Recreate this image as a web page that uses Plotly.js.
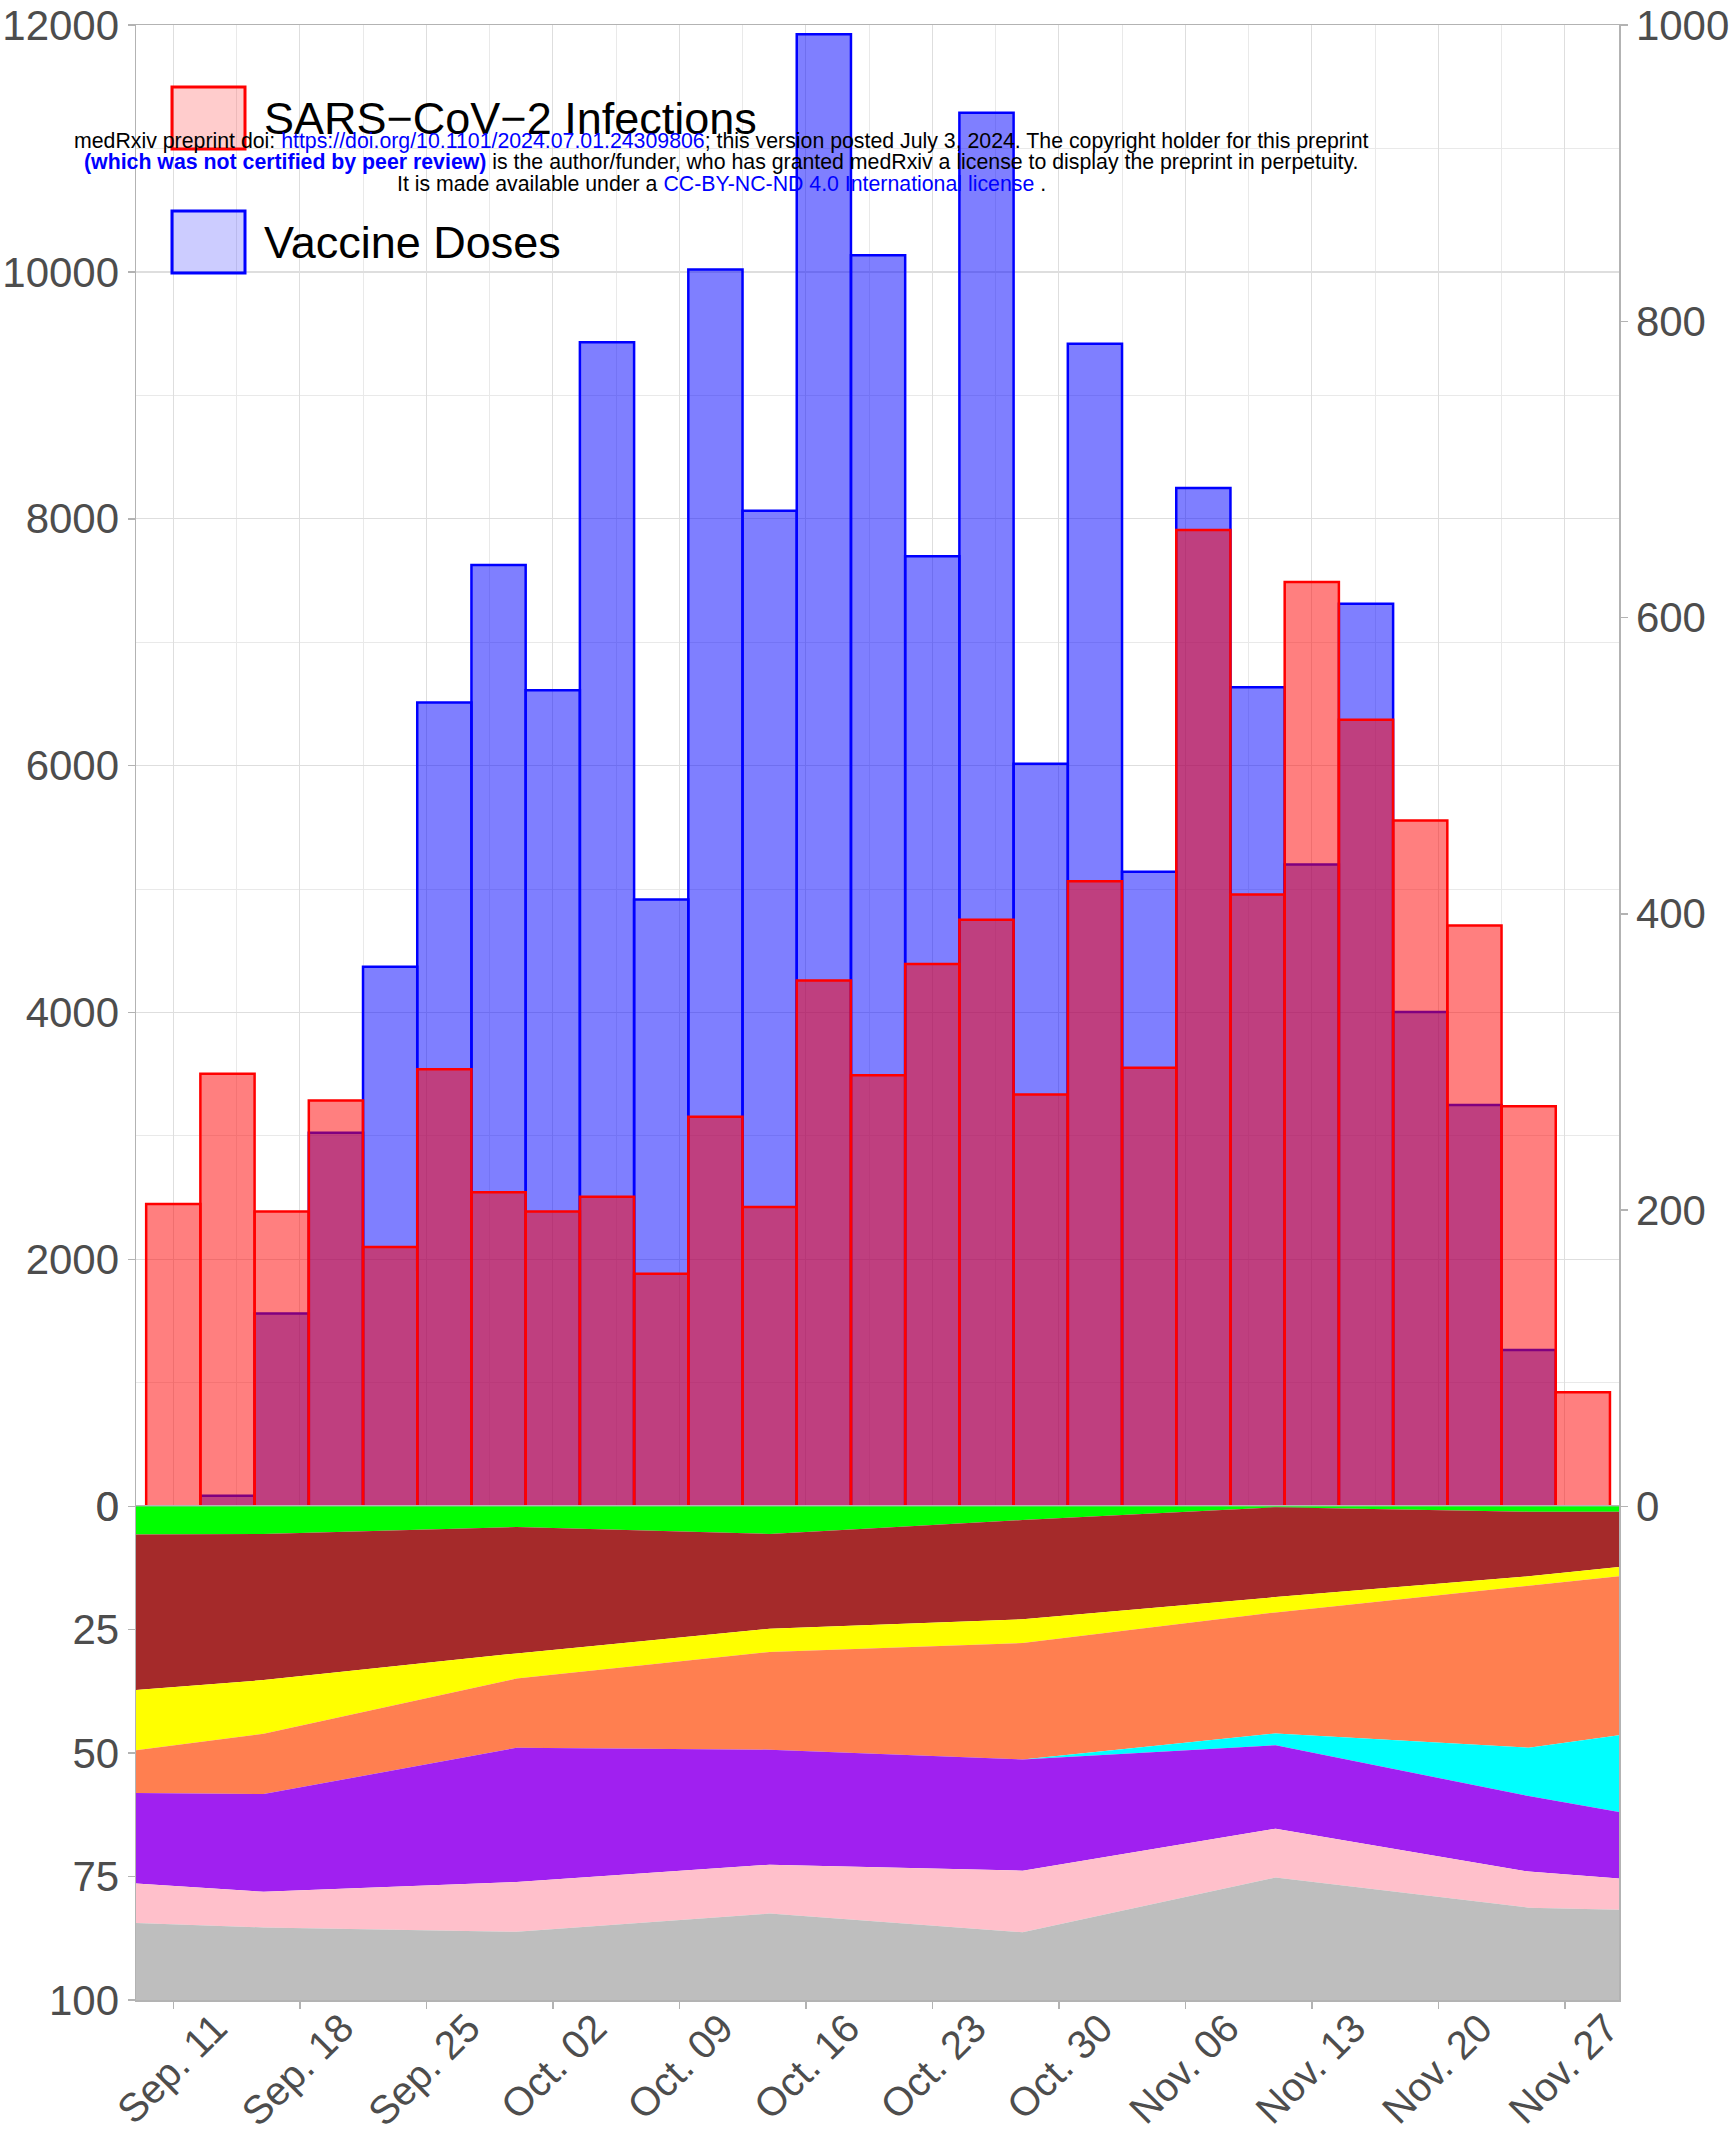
<!DOCTYPE html>
<html><head><meta charset="utf-8">
<script src="https://cdn.plot.ly/plotly-3.0.1.min.js"></script>
<style>html,body{margin:0;padding:0;background:#fff}#chart{width:1729px;height:2132px}</style>
</head><body><div id="chart"></div>
<script>
// ---------- data ----------
const barDates = ['2023-09-11','2023-09-14','2023-09-17','2023-09-20','2023-09-23','2023-09-26','2023-09-29',
  '2023-10-02','2023-10-05','2023-10-08','2023-10-11','2023-10-14','2023-10-17','2023-10-20','2023-10-23',
  '2023-10-26','2023-10-29','2023-11-01','2023-11-04','2023-11-07','2023-11-10','2023-11-13','2023-11-16',
  '2023-11-19','2023-11-22','2023-11-25','2023-11-28'];
// vaccine doses (left axis)
const vaccineDoses = [0, 86, 1562, 3026, 4370, 6512, 7625, 6611, 9430, 4915, 10020, 8065, 11925, 10135,
  7697, 11290, 6015, 9417, 5140, 8250, 6634, 5200, 7312, 4005, 3250, 1266, 0];
// SARS-CoV-2 infections (right axis)
const infections = [204, 292, 199, 274, 175, 295, 212, 199, 209, 157, 263, 202, 355, 291, 366, 396,
  278, 422, 296, 659, 413, 624, 531, 463, 392, 270, 77];

// stacked shares (%), bottom panel
const areaDates = ['2023-09-08 22:30','2023-09-16','2023-09-30','2023-10-14','2023-10-28','2023-11-11','2023-11-25','2023-11-30'];
const shareGreen  = [5.7, 5.6, 4.2, 5.6, 2.8, 0.2, 1.1, 1.1];
const shareBrown  = [31.5, 29.6, 25.6, 19.2, 20.1, 18.2, 13.1, 11.2];
const shareYellow = [12.2, 10.9, 5.1, 4.7, 4.8, 3.1, 1.9, 1.9];
const shareCoral  = [8.7, 12.2, 14.0, 19.8, 23.6, 24.5, 32.8, 32.2];
const shareCyan   = [0, 0, 0, 0, 0, 2.4, 9.8, 15.5];
const sharePurple = [18.3, 19.8, 27.2, 23.3, 22.5, 16.9, 15.3, 13.5];
const sharePink   = [8.0, 7.2, 10.1, 9.9, 12.5, 9.9, 7.3, 6.3];
const shareGray   = [15.6, 14.7, 13.8, 17.5, 13.7, 24.8, 18.7, 18.3];

const tickDates = ['2023-09-11','2023-09-18','2023-09-25','2023-10-02','2023-10-09','2023-10-16',
  '2023-10-23','2023-10-30','2023-11-06','2023-11-13','2023-11-20','2023-11-27'];
const tickLabels = ['Sep. 11','Sep. 18','Sep. 25','Oct. 02','Oct. 09','Oct. 16','Oct. 23','Oct. 30',
  'Nov. 06','Nov. 13','Nov. 20','Nov. 27'];

const legendLabels = ['SARS\u2212CoV\u22122 Infections', 'Vaccine Doses'];

// ---------- layout helpers ----------
const W = 1729, H = 2132, ML = 136, MR = 110, MT = 25, MB = 132;
const PW = W - ML - MR, PH = H - MT - MB;
const px = x => (x - ML) / PW;
const py = y => 1 - (y - MT) / PH;
const DAY = 86400000;
const xRange = ['2023-09-08 22:30', '2023-11-30 00:00'];
const axisGrey = '#B3B3B3', textGrey = '#4D4D4D', gridGrey = '#DEDEDE';
const FONT = 'Liberation Sans, Arial, Helvetica, sans-serif';

const areaLayers = [
  [shareGreen, '#00FF00'], [shareBrown, '#A52A2A'], [shareYellow, '#FFFF00'], [shareCoral, '#FF7F50'],
  [shareCyan, '#00FFFF'], [sharePurple, '#A020F0'], [sharePink, '#FFC0CB'], [shareGray, '#BEBEBE']
];

const traces = [
  {type:'bar', x:barDates, y:vaccineDoses, width:3*DAY, xaxis:'x', yaxis:'y', name:legendLabels[1],
   marker:{color:'rgba(0,0,255,0.5)', line:{color:'#0000FF', width:2.5}}, hoverinfo:'skip'},
  {type:'bar', x:barDates, y:infections, width:3*DAY, xaxis:'x', yaxis:'y2', name:legendLabels[0],
   marker:{color:'rgba(255,0,0,0.5)', line:{color:'#FF0000', width:2.5}}, hoverinfo:'skip'}
];
areaLayers.forEach(([vals, col]) => {
  traces.push({type:'scatter', mode:'lines', x:areaDates, y:vals, xaxis:'x2', yaxis:'y3',
    stackgroup:'variants', line:{width:0, color:col}, fillcolor:col, hoverinfo:'skip'});
});

const tickFont = {family:FONT, size:42, color:textGrey};

const layout = {
  width:W, height:H, margin:{l:ML, r:MR, t:MT, b:MB, pad:0},
  paper_bgcolor:'#FFFFFF', plot_bgcolor:'#FFFFFF', showlegend:false, barmode:'overlay',
  font:{family:FONT},
  xaxis:{type:'date', domain:[0,1], anchor:'y', range:xRange, showticklabels:false, ticks:'',
    tick0:'2023-09-11', dtick:7*DAY, showgrid:true, gridcolor:gridGrey, gridwidth:1.3,
    minor:{tick0:'2023-09-11', dtick:3.5*DAY, showgrid:true, gridcolor:'#E9E9E9', gridwidth:1, ticks:''},
    showline:true, mirror:true, linecolor:axisGrey, linewidth:1.5, zeroline:false},
  yaxis:{domain:[0.25,1], anchor:'x', range:[0,12000], tick0:0, dtick:2000, tickformat:'d',
    ticks:'outside', ticklen:7, tickwidth:1.5, tickcolor:axisGrey, tickfont:tickFont,
    showgrid:true, gridcolor:gridGrey, gridwidth:1.3,
    minor:{dtick:1000, showgrid:true, gridcolor:'#E9E9E9', gridwidth:1, ticks:''},
    showline:true, linecolor:axisGrey, linewidth:1.5, zeroline:false},
  yaxis2:{overlaying:'y', side:'right', anchor:'x', range:[0,1000], tick0:0, dtick:200, tickformat:'d',
    ticks:'outside', ticklen:7, tickwidth:1.5, tickcolor:axisGrey, tickfont:tickFont,
    showgrid:false, showline:true, linecolor:axisGrey, linewidth:1.5, zeroline:false},
  xaxis2:{type:'date', domain:[0,1], anchor:'y3', range:xRange, tickmode:'array', tickvals:tickDates,
    ticktext:tickLabels, tickangle:-45, ticks:'outside', ticklen:7, tickwidth:1.5, tickcolor:axisGrey,
    ticklabelshift:42, ticklabelstandoff:-20,
    tickfont:{family:FONT, size:40, color:textGrey}, showgrid:false, showline:true, mirror:true,
    linecolor:axisGrey, linewidth:1.5, zeroline:false},
  yaxis3:{domain:[0,0.25], anchor:'x2', range:[100,0], tickmode:'array', tickvals:[0,25,50,75,100],
    ticks:'outside', ticklen:7, tickwidth:1.5, tickcolor:axisGrey, tickfont:tickFont,
    showgrid:false, showline:true, mirror:true, linecolor:axisGrey, linewidth:1.5, zeroline:false},
  shapes:[
    {type:'rect', xref:'paper', yref:'paper', x0:px(172), x1:px(245), y0:py(87), y1:py(149),
     fillcolor:'rgba(255,0,0,0.2)', line:{color:'#FF0000', width:3}, layer:'above'},
    {type:'rect', xref:'paper', yref:'paper', x0:px(172), x1:px(245), y0:py(211), y1:py(273),
     fillcolor:'rgba(0,0,255,0.2)', line:{color:'#0000FF', width:3}, layer:'above'}
  ],
  annotations:[
    {xref:'paper', yref:'paper', x:px(262), y:py(118), xanchor:'left', yanchor:'middle', showarrow:false,
     text:legendLabels[0], font:{family:FONT, size:45, color:'#000000'}},
    {xref:'paper', yref:'paper', x:px(262), y:py(242), xanchor:'left', yanchor:'middle', showarrow:false,
     text:legendLabels[1], font:{family:FONT, size:45, color:'#000000'}},
    {xref:'paper', yref:'paper', x:px(721), y:py(141), xanchor:'center', yanchor:'middle', showarrow:false,
     text:'medRxiv preprint doi: <span style="color:#0000FF">https://doi.org/10.1101/2024.07.01.24309806</span>; this version posted July 3, 2024. The copyright holder for this preprint',
     font:{family:FONT, size:21.3, color:'#000000'}},
    {xref:'paper', yref:'paper', x:px(721), y:py(162), xanchor:'center', yanchor:'middle', showarrow:false,
     text:'<b><span style="color:#0000FF">(which was not certified by peer review)</span></b> is the author/funder, who has granted medRxiv a license to display the preprint in perpetuity.',
     font:{family:FONT, size:21.3, color:'#000000'}},
    {xref:'paper', yref:'paper', x:px(721), y:py(184), xanchor:'center', yanchor:'middle', showarrow:false,
     text:'It is made available under a <span style="color:#0000FF">CC-BY-NC-ND 4.0 International license</span> .',
     font:{family:FONT, size:21.3, color:'#000000'}}
  ]
};

Plotly.newPlot('chart', traces, layout, {displayModeBar:false, staticPlot:true});
</script>
</body></html>
